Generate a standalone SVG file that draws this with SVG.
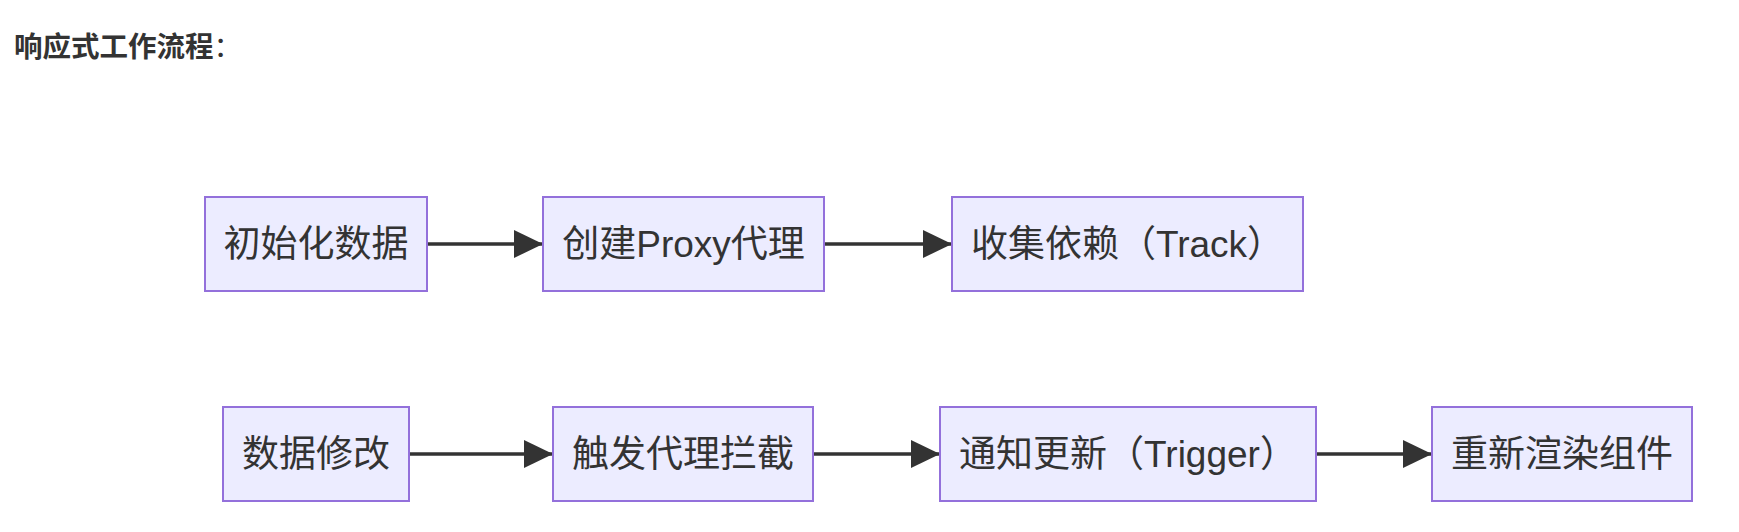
<svg xmlns="http://www.w3.org/2000/svg" width="1739" height="532" viewBox="0 0 1739 532">
<defs>
<style>
.node rect{fill:#ECECFF;stroke:#9370DB;stroke-width:2}
.node text{font-family:"Liberation Sans","Noto Sans CJK SC",sans-serif;font-size:37px;fill:#333;text-anchor:middle;dominant-baseline:central}
.edge{stroke:#333;stroke-width:3.5;fill:none;marker-end:url(#arr)}
.title{font-family:"Liberation Sans","Noto Sans CJK SC",sans-serif;font-size:28.5px;fill:#333}
</style>
<marker id="arr" markerUnits="userSpaceOnUse" markerWidth="29" markerHeight="28" refX="29" refY="14" orient="auto">
<path d="M0,0 L29,14 L0,28 z" fill="#333"/>
</marker>
</defs>
<rect width="1739" height="532" fill="#fff"/>
<text class="title" x="14" y="57"><tspan font-weight="bold">响应式工作流程</tspan><tspan>：</tspan></text>
<g id="connectors">
<line class="edge" x1="427" y1="244" x2="543" y2="244"/>
<line class="edge" x1="824" y1="244" x2="952" y2="244"/>
<line class="edge" x1="409" y1="454" x2="553" y2="454"/>
<line class="edge" x1="813" y1="454" x2="940" y2="454"/>
<line class="edge" x1="1316" y1="454" x2="1432" y2="454"/>
</g>
<g id="n1" class="node"><rect x="205" y="197" width="222" height="94"/><text x="316" y="244">初始化数据</text></g>
<g id="n2" class="node"><rect x="543" y="197" width="281" height="94"/><text x="683.5" y="244">创建Proxy代理</text></g>
<g id="n3" class="node"><rect x="952" y="197" width="351" height="94"/><text x="1127.5" y="244">收集依赖（Track）</text></g>
<g id="n4" class="node"><rect x="223" y="407" width="186" height="94"/><text x="316" y="454">数据修改</text></g>
<g id="n5" class="node"><rect x="553" y="407" width="260" height="94"/><text x="683" y="454">触发代理拦截</text></g>
<g id="n6" class="node"><rect x="940" y="407" width="376" height="94"/><text x="1128" y="454">通知更新（Trigger）</text></g>
<g id="n7" class="node"><rect x="1432" y="407" width="260" height="94"/><text x="1562" y="454">重新渲染组件</text></g>
</svg>
